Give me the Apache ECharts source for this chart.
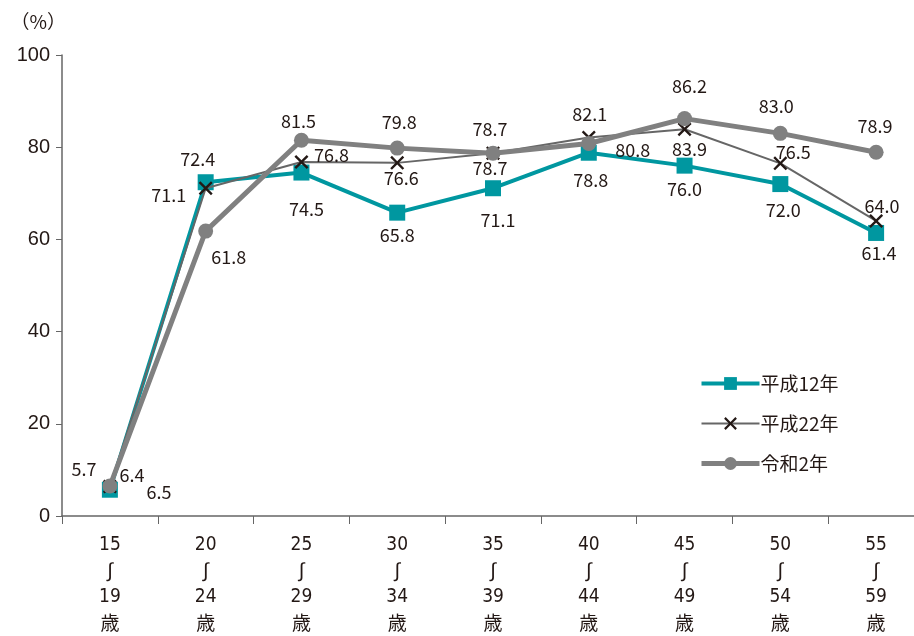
<!DOCTYPE html>
<html><head><meta charset="utf-8">
<script src="https://cdn.jsdelivr.net/npm/echarts@6/dist/echarts.min.js"></script>
<style>html,body{margin:0;padding:0;background:#fff;overflow:hidden}#c{width:924px;height:636px}</style>
</head><body><div id="c"></div>
<script>
const categories = ['15\n〜\n19\n歳','20\n〜\n24\n歳','25\n〜\n29\n歳','30\n〜\n34\n歳','35\n〜\n39\n歳','40\n〜\n44\n歳','45\n〜\n49\n歳','50\n〜\n54\n歳','55\n〜\n59\n歳'];
const seriesNames = ['平成12年','平成22年','令和2年'];
const h12 = [5.7, 72.4, 74.5, 65.8, 71.1, 78.8, 76.0, 72.0, 61.4];
const h22 = [6.4, 71.1, 76.8, 76.6, 78.7, 82.1, 83.9, 76.5, 64.0];
const r2  = [6.5, 61.8, 81.5, 79.8, 78.7, 80.8, 86.2, 83.0, 78.9];
const yTicks = [0, 20, 40, 60, 80, 100];

// label offsets (pixels) relative to each point
const offH12 = [[-26,-21],[-8,-23],[5,37],[0,22],[5,32],[2,27],[0,24],[3,26],[3,20]];
const offH22 = [[22,-11],[-37,7],[30,-7],[4,15],[-3,15],[1,-23],[5,20],[13,-11],[6,-15]];
const offR2  = [[49,6],[23,26],[-3,-19],[2,-26],[-3,-24],[44,7],[5,-32],[-4,-27],[-1,-26]];

const labelFont = {fontFamily:'Noto Sans CJK JP', fontSize:18, color:'#231815'};
function mk(vals, offs){
  return vals.map((v,i)=>({value:v, label:{show:true, position:'inside', offset:offs[i], formatter: v.toFixed(1), ...labelFont}}));
}
const xPath = 'path://M0,1.2L1.2,0L5,3.8L8.8,0L10,1.2L6.2,5L10,8.8L8.8,10L5,6.2L1.2,10L0,8.8L3.8,5Z';

const chart = echarts.init(document.getElementById('c'));
chart.setOption({
  animation:false,
  grid:{left:62, right:0, top:55, bottom:120},
  legend:{
    orient:'vertical', left:694, top:369, itemGap:21, itemWidth:58, itemHeight:16,
    textStyle:{fontFamily:'Noto Sans CJK JP', fontSize:19, color:'#231815', padding:[0,0,0,-4]},
    data:[
      {name:seriesNames[0], lineStyle:{width:4}},
      {name:seriesNames[1], lineStyle:{width:2}},
      {name:seriesNames[2], lineStyle:{width:5}}
    ]
  },
  xAxis:{
    type:'category', data:categories, boundaryGap:true,
    axisLine:{lineStyle:{color:'#666', width:1.5}},
    axisTick:{show:true, length:8, lineStyle:{color:'#666'}},
    axisLabel:{fontFamily:'DejaVu Sans Condensed', fontSize:19, color:'#231815', lineHeight:26, margin:16, interval:0,
      formatter:v=>v.split('\n').map((s,i)=>i===1?'{w|∫}':(i===3?'{k|'+s+'}':s)).join('\n'),
      rich:{w:{fontFamily:'Liberation Sans', fontSize:20, lineHeight:26, color:'#231815'},
            k:{fontFamily:'Noto Sans CJK JP', fontSize:19, lineHeight:26, color:'#231815'}}}
  },
  yAxis:{
    type:'value', min:0, max:100, interval:20,
    name:'（%）', nameLocation:'end', nameGap:24,
    nameTextStyle:{fontFamily:'Noto Sans CJK JP', fontSize:19, color:'#231815', align:'right', padding:[0,-4,0,0]},
    axisLine:{show:true, lineStyle:{color:'#666', width:1.5}},
    axisTick:{show:true, length:6, lineStyle:{color:'#666'}},
    splitLine:{show:false},
    axisLabel:{fontFamily:'Liberation Sans', fontSize:20, color:'#231815', margin:12,
      formatter:v=>yTicks.includes(v)?String(v):''}
  },
  series:[
    {name:seriesNames[0], type:'line', data:mk(h12,offH12), symbol:'rect', symbolSize:16,
     lineStyle:{color:'#0097a0', width:4}, itemStyle:{color:'#0097a0'}, z:2},
    {name:seriesNames[1], type:'line', data:mk(h22,offH22), symbol:xPath, symbolSize:14,
     lineStyle:{color:'#666666', width:2}, itemStyle:{color:'#231815'}, z:3},
    {name:seriesNames[2], type:'line', data:mk(r2,offR2), symbol:'circle', symbolSize:15,
     lineStyle:{color:'#808080', width:5}, itemStyle:{color:'#808080'}, z:4}
  ]
});
</script></body></html>
